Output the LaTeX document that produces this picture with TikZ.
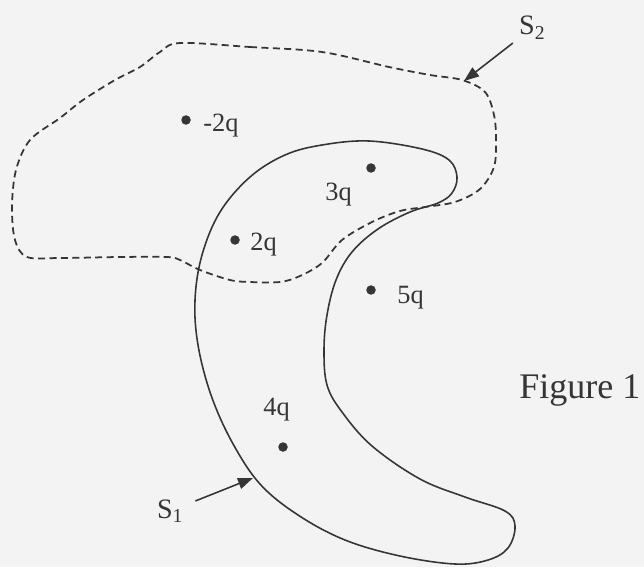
\documentclass[tikz,border=0pt]{standalone}
\usepackage{fontspec}
\setmainfont{Liberation Serif}
\usepackage{tikz}
\usetikzlibrary{positioning,arrows.meta}
\definecolor{ScanInk}{HTML}{353535}
\definecolor{ScanPaper}{HTML}{F3F3F3}

\begin{document}
\begin{tikzpicture}[
  x=0.02cm, y=-0.02cm,
  font=\fontsize{15}{18}\selectfont,
  charge/.style={circle, fill=ScanInk, inner sep=0pt, minimum size=0.19cm},
  qlabel/.style={anchor=base west, text=ScanInk, inner sep=0pt},
  slabel/.style={anchor=base west, text=ScanInk, inner sep=1pt, font=\fontsize{16}{19}\selectfont},
  surface/.style={draw=ScanInk, line width=0.9pt},
  gauss/.style={draw=ScanInk, line width=1pt, dash pattern=on 4pt off 2.5pt},
  arrow/.style={-{Triangle[length=0.3cm,width=0.22cm]}, line width=0.9pt, color=ScanInk}
]
  % paper background fixes the page size
  \fill[ScanPaper] (0,0) rectangle (644,567);

  % closed surface S1 (crescent)
  \draw[surface] plot[smooth cycle, tension=0.6] coordinates {
    (322,145) (369,141) (422,149) (449,160) (457,177) (452,193) (438,203)
    (410,212) (378,229) (352,252) (336,280) (327,315) (324,350)
    (327,385) (342,412) (372,446) (420,479) (465,497) (505,511)
    (515,526) (508,548) (488,560) (455,564) (400,556) (345,540)
    (298,515) (260,484) (232,442) (211,395) (198,345) (195,300)
    (202,255) (220,212) (250,177) (285,155)};

  % closed surface S2 (dashed)
  \draw[gauss] plot[smooth cycle, tension=0.55] coordinates {
    (180,43) (250,47) (322,52) (389,67) (430,75) (462,80) (485,92)
    (494,115) (496,140) (494,167) (480,189) (455,202) (425,207) (400,211)
    (372,222) (342,240) (322,263) (300,276) (280,282) (250,282) (230,280)
    (200,270) (180,260) (167,257) (120,257) (60,258) (27,257) (15,240)
    (12,207) (16,170) (30,140) (60,118) (83,100) (115,80) (140,67) (160,52)};

  % point charges
  \node[charge] (qa) at (186,120) {};
  \node[charge] (qb) at (235,240) {};
  \node[charge] (qc) at (371,168) {};
  \node[charge] (qd) at (371,290) {};
  \node[charge] (qe) at (283,447) {};

  \node[qlabel] (la) at (203,132) {-2q};
  \node[qlabel] (lb) at (250,250) {2q};
  \node[qlabel] (lc) at (325,200) {3q};
  \node[qlabel] (ld) at (397,303) {5q};
  \node[qlabel] (le) at (263,415) {4q};

  % surface labels with pointers
  \node[slabel] (s2) at (517,35) {S\textsubscript{2}};
  \node[slabel] (s1) at (155,518) {S\textsubscript{1}};
  \coordinate (s2tip) at (464,81);
  \coordinate (s1tip) at (253,478);
  \draw[arrow, shorten <=3pt] (s2) -- (s2tip);
  \draw[arrow, shorten <=6pt] (s1) -- (s1tip);

  \node[anchor=base west, text=ScanInk, inner sep=0pt, font=\fontsize{20.5}{24}\selectfont]
    (fig) at (519,398) {Figure 1};
\end{tikzpicture}
\end{document}
